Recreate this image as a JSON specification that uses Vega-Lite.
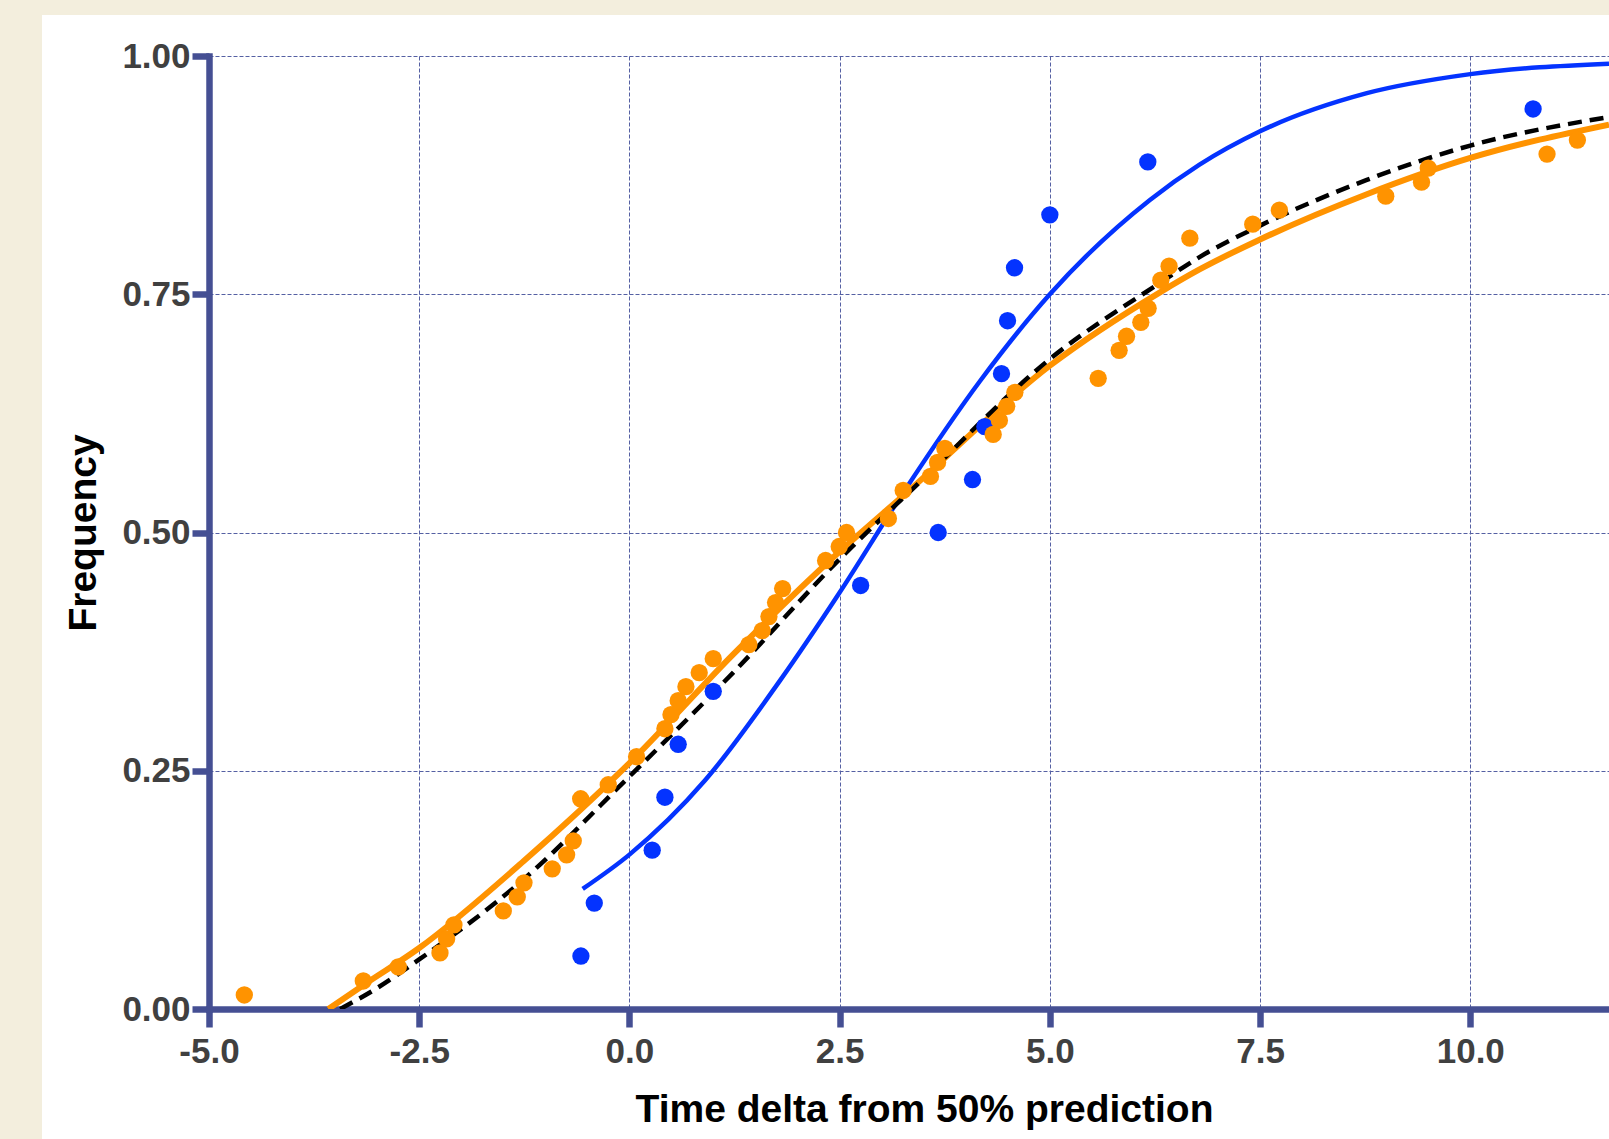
{
  "$schema": "https://vega.github.io/schema/vega-lite/v6.json",
  "width": 1400,
  "height": 953,
  "autosize": {"type": "none"},
  "padding": {"left": 209, "top": 56, "right": 0, "bottom": 130},
  "background": "white",
  "config": {
    "view": {"stroke": null},
    "axis": {
      "labelFont": "Liberation Sans", "labelFontWeight": "bold", "labelFontSize": 35, "labelColor": "#404040",
      "titleFont": "Liberation Sans", "titleFontWeight": "bold", "titleFontSize": 39, "titleColor": "#000000",
      "domainColor": "#454F93", "domainWidth": 6.5, "domainCap": "square",
      "tickColor": "#454F93", "tickWidth": 6.5,
      "grid": true, "gridColor": "#5560A3", "gridDash": [4, 2], "gridWidth": 1, "gridOpacity": 1
    },
    "axisX": {"tickSize": 18, "labelPadding": 7, "titlePadding": 21, "labelFlush": false, "titleX": 715},
    "axisY": {"tickSize": 17, "labelPadding": 2, "titlePadding": 18}
  },
  "datasets": {
    "pts": [
      {"series": "orange", "t": -4.58, "freq": 0.0147},
      {"series": "orange", "t": -3.165, "freq": 0.0294},
      {"series": "orange", "t": -2.749, "freq": 0.0441},
      {"series": "orange", "t": -2.253, "freq": 0.0588},
      {"series": "orange", "t": -2.174, "freq": 0.0735},
      {"series": "orange", "t": -2.087, "freq": 0.0882},
      {"series": "orange", "t": -1.5, "freq": 0.1029},
      {"series": "orange", "t": -1.334, "freq": 0.1176},
      {"series": "orange", "t": -1.254, "freq": 0.1324},
      {"series": "orange", "t": -0.918, "freq": 0.1471},
      {"series": "orange", "t": -0.747, "freq": 0.1618},
      {"series": "orange", "t": -0.668, "freq": 0.1765},
      {"series": "orange", "t": -0.58, "freq": 0.2206},
      {"series": "orange", "t": -0.252, "freq": 0.2353},
      {"series": "orange", "t": 0.085, "freq": 0.2647},
      {"series": "orange", "t": 0.422, "freq": 0.2941},
      {"series": "orange", "t": 0.494, "freq": 0.3088},
      {"series": "orange", "t": 0.58, "freq": 0.3235},
      {"series": "orange", "t": 0.672, "freq": 0.3382},
      {"series": "orange", "t": 0.83, "freq": 0.3529},
      {"series": "orange", "t": 0.997, "freq": 0.3676},
      {"series": "orange", "t": 1.421, "freq": 0.3824},
      {"series": "orange", "t": 1.579, "freq": 0.3971},
      {"series": "orange", "t": 1.659, "freq": 0.4118},
      {"series": "orange", "t": 1.738, "freq": 0.4265},
      {"series": "orange", "t": 1.822, "freq": 0.4412},
      {"series": "orange", "t": 2.333, "freq": 0.4706},
      {"series": "orange", "t": 2.495, "freq": 0.4853},
      {"series": "orange", "t": 2.582, "freq": 0.5},
      {"series": "orange", "t": 3.08, "freq": 0.5147},
      {"series": "orange", "t": 3.256, "freq": 0.5441},
      {"series": "orange", "t": 3.58, "freq": 0.5588},
      {"series": "orange", "t": 3.665, "freq": 0.5735},
      {"series": "orange", "t": 3.752, "freq": 0.5882},
      {"series": "orange", "t": 4.326, "freq": 0.6029},
      {"series": "orange", "t": 4.4, "freq": 0.6176},
      {"series": "orange", "t": 4.487, "freq": 0.6324},
      {"series": "orange", "t": 4.584, "freq": 0.6471},
      {"series": "orange", "t": 5.575, "freq": 0.6618},
      {"series": "orange", "t": 5.824, "freq": 0.6912},
      {"series": "orange", "t": 5.912, "freq": 0.7059},
      {"series": "orange", "t": 6.082, "freq": 0.7206},
      {"series": "orange", "t": 6.169, "freq": 0.7353},
      {"series": "orange", "t": 6.32, "freq": 0.7647},
      {"series": "orange", "t": 6.418, "freq": 0.7794},
      {"series": "orange", "t": 6.665, "freq": 0.8088},
      {"series": "orange", "t": 7.413, "freq": 0.8235},
      {"series": "orange", "t": 7.73, "freq": 0.8382},
      {"series": "orange", "t": 8.995, "freq": 0.8529},
      {"series": "orange", "t": 9.42, "freq": 0.8676},
      {"series": "orange", "t": 9.5, "freq": 0.8824},
      {"series": "orange", "t": 10.913, "freq": 0.8971},
      {"series": "orange", "t": 11.274, "freq": 0.9118},
      {"series": "blue", "t": -0.577, "freq": 0.0556},
      {"series": "blue", "t": -0.418, "freq": 0.1111},
      {"series": "blue", "t": 0.271, "freq": 0.1667},
      {"series": "blue", "t": 0.422, "freq": 0.2222},
      {"series": "blue", "t": 0.58, "freq": 0.2778},
      {"series": "blue", "t": 0.997, "freq": 0.3333},
      {"series": "blue", "t": 2.75, "freq": 0.4444},
      {"series": "blue", "t": 3.672, "freq": 0.5},
      {"series": "blue", "t": 4.08, "freq": 0.5556},
      {"series": "blue", "t": 4.227, "freq": 0.6111},
      {"series": "blue", "t": 4.425, "freq": 0.6667},
      {"series": "blue", "t": 4.497, "freq": 0.7222},
      {"series": "blue", "t": 4.58, "freq": 0.7778},
      {"series": "blue", "t": 5.0, "freq": 0.8333},
      {"series": "blue", "t": 6.165, "freq": 0.8889},
      {"series": "blue", "t": 10.747, "freq": 0.9444}
    ],
    "fits": [
      {"series": "blue", "t": -0.556, "freq": 0.126},
      {"series": "blue", "t": 0.0, "freq": 0.162},
      {"series": "blue", "t": 0.9, "freq": 0.24},
      {"series": "blue", "t": 1.786, "freq": 0.344},
      {"series": "blue", "t": 2.5, "freq": 0.437},
      {"series": "blue", "t": 3.25, "freq": 0.541},
      {"series": "blue", "t": 4.17, "freq": 0.659},
      {"series": "blue", "t": 5.0, "freq": 0.75},
      {"series": "blue", "t": 6.19, "freq": 0.849},
      {"series": "blue", "t": 6.78, "freq": 0.886},
      {"series": "blue", "t": 7.5, "freq": 0.921},
      {"series": "blue", "t": 8.77, "freq": 0.961},
      {"series": "blue", "t": 10.0, "freq": 0.981},
      {"series": "blue", "t": 11.65, "freq": 0.992},
      {"series": "orange", "t": -3.58, "freq": 0.0},
      {"series": "orange", "t": -3.165, "freq": 0.025},
      {"series": "orange", "t": -2.5, "freq": 0.064},
      {"series": "orange", "t": -1.26, "freq": 0.155},
      {"series": "orange", "t": 0.0, "freq": 0.258},
      {"series": "orange", "t": 1.234, "freq": 0.372},
      {"series": "orange", "t": 2.5, "freq": 0.48},
      {"series": "orange", "t": 3.3, "freq": 0.542},
      {"series": "orange", "t": 5.0, "freq": 0.675},
      {"series": "orange", "t": 6.31, "freq": 0.752},
      {"series": "orange", "t": 6.78, "freq": 0.776},
      {"series": "orange", "t": 7.5, "freq": 0.8075},
      {"series": "orange", "t": 8.77, "freq": 0.855},
      {"series": "orange", "t": 10.0, "freq": 0.893},
      {"series": "orange", "t": 11.65, "freq": 0.928},
      {"series": "pooled", "t": -3.44, "freq": 0.0},
      {"series": "pooled", "t": -3.0, "freq": 0.022},
      {"series": "pooled", "t": -2.5, "freq": 0.052},
      {"series": "pooled", "t": -1.26, "freq": 0.136},
      {"series": "pooled", "t": 0.0, "freq": 0.244},
      {"series": "pooled", "t": 1.234, "freq": 0.353},
      {"series": "pooled", "t": 2.5, "freq": 0.472},
      {"series": "pooled", "t": 3.454, "freq": 0.553},
      {"series": "pooled", "t": 5.0, "freq": 0.682},
      {"series": "pooled", "t": 6.31, "freq": 0.762},
      {"series": "pooled", "t": 6.78, "freq": 0.789},
      {"series": "pooled", "t": 7.5, "freq": 0.822},
      {"series": "pooled", "t": 8.77, "freq": 0.87},
      {"series": "pooled", "t": 10.0, "freq": 0.906},
      {"series": "pooled", "t": 11.65, "freq": 0.936}
    ]
  },
  "layer": [
    {
      "data": {"name": "fits"},
      "transform": [{"filter": "datum.series == 'blue'"}],
      "mark": {"type": "line", "color": "#0433FF", "strokeWidth": 4.5, "interpolate": "monotone", "clip": true},
      "encoding": {
        "x": {
          "field": "t", "type": "quantitative",
          "scale": {"domain": [-5, 11.65], "nice": false, "zero": false},
          "axis": {"title": "Time delta from 50% prediction", "values": [-5, -2.5, 0, 2.5, 5, 7.5, 10], "format": ".1f", "labelExpr": "replace(datum.label, '−', '-')"}
        },
        "y": {
          "field": "freq", "type": "quantitative",
          "scale": {"domain": [0, 1], "nice": false, "zero": false},
          "axis": {"title": "Frequency", "values": [0, 0.25, 0.5, 0.75, 1], "format": ".2f"}
        }
      }
    },
    {
      "data": {"name": "fits"},
      "transform": [{"filter": "datum.series == 'orange'"}],
      "mark": {"type": "line", "color": "#FF9300", "strokeWidth": 6, "interpolate": "monotone", "clip": true},
      "encoding": {"x": {"field": "t", "type": "quantitative"}, "y": {"field": "freq", "type": "quantitative"}}
    },
    {
      "data": {"name": "fits"},
      "transform": [{"filter": "datum.series == 'pooled'"}],
      "mark": {"type": "line", "color": "#000000", "strokeWidth": 4.5, "strokeDash": [14, 8], "interpolate": "monotone", "clip": true},
      "encoding": {"x": {"field": "t", "type": "quantitative"}, "y": {"field": "freq", "type": "quantitative"}}
    },
    {
      "data": {"name": "pts"},
      "transform": [{"filter": "datum.series == 'blue'"}],
      "mark": {"type": "circle", "color": "#0433FF", "size": 300, "opacity": 1},
      "encoding": {"x": {"field": "t", "type": "quantitative"}, "y": {"field": "freq", "type": "quantitative"}}
    },
    {
      "data": {"name": "pts"},
      "transform": [{"filter": "datum.series == 'orange'"}],
      "mark": {"type": "circle", "color": "#FF9300", "size": 300, "opacity": 1},
      "encoding": {"x": {"field": "t", "type": "quantitative"}, "y": {"field": "freq", "type": "quantitative"}}
    },
    {
      "data": {"values": [{"band": "left"}]},
      "mark": {"type": "rect", "fill": "#F3EEDD", "clip": false},
      "encoding": {
        "x": {"datum": -8, "type": "quantitative"},
        "x2": {"datum": -6.986},
        "y": {"datum": -0.3, "type": "quantitative"},
        "y2": {"datum": 1.3}
      }
    },
    {
      "data": {"values": [{"band": "top"}]},
      "mark": {"type": "rect", "fill": "#F3EEDD", "clip": false},
      "encoding": {
        "x": {"datum": -8, "type": "quantitative"},
        "x2": {"datum": 13},
        "y": {"datum": 1.043, "type": "quantitative"},
        "y2": {"datum": 1.3}
      }
    }
  ]
}
